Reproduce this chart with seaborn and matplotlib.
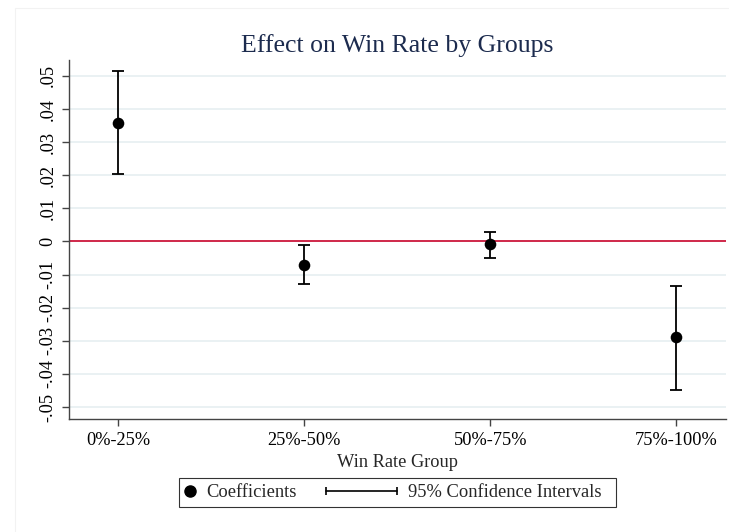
import numpy as np
import pandas as pd
import matplotlib.pyplot as plt
import seaborn as sns
from matplotlib.lines import Line2D
from matplotlib.legend_handler import HandlerLine2D
from matplotlib.patches import Rectangle

# values
groups = ['0%-25%', '25%-50%', '50%-75%', '75%-100%']
coef = [0.0359, -0.0070, -0.0009, -0.0289]
ci_low = [0.0203, -0.0128, -0.0050, -0.0447]
ci_high = [0.0516, -0.0011, 0.0030, -0.0133]
yticks = [0.05, 0.04, 0.03, 0.02, 0.01, 0, -0.01, -0.02, -0.03, -0.04, -0.05]
ytick_labels = ['.05', '.04', '.03', '.02', '.01', '0', '-.01', '-.02', '-.03', '-.04', '-.05']

df = pd.DataFrame({'group': groups, 'coef': coef, 'lo': ci_low, 'hi': ci_high})
df['pos'] = np.arange(len(df))


class WideCIHandler(HandlerLine2D):
    # CI key is wider than the legend handle box, it runs out to the left
    def get_xdata(self, legend, xdescent, ydescent, width, height, fontsize):
        x = np.array([-xdescent + width - 51, -xdescent + width])
        return x, x


sns.set_theme(style='white')
plt.rcParams['font.family'] = ['Liberation Serif', 'DejaVu Serif']

fig = plt.figure(figsize=(7.29, 5.32), dpi=100)
ax = fig.add_axes([0.0947, 0.2124, 0.9006, 0.6748])

# faint outer frame like the Stata graph region
fig.patches.append(Rectangle((15 / 729, -0.05), 1.2, 1.05 - 8 / 532, transform=fig.transFigure,
                             fill=False, edgecolor='#f2f2f2', linewidth=0.8, zorder=0))

# grid lines
for y in yticks:
    ax.axhline(y, color='#eaf1f3', linewidth=1.4, zorder=0)
ax.axhline(0, color='#d0284a', linewidth=1.4, zorder=1)

# confidence intervals
ax.errorbar(df['pos'], df['coef'],
            yerr=[df['coef'] - df['lo'], df['hi'] - df['coef']],
            fmt='none', ecolor='black', elinewidth=1.3, capsize=4, capthick=1.3, zorder=2)

# coefficients
sns.scatterplot(data=df, x='pos', y='coef', color='black', s=70, edgecolor='black',
                linewidth=0, ax=ax, zorder=3, legend=False)

ax.set_xlim(-0.265, 3.265)
ax.set_ylim(-0.0536, 0.0548)
ax.set_xticks(df['pos'])
ax.set_xticklabels(groups, fontsize=13.2)
ax.set_yticks(yticks)
ax.set_yticklabels(ytick_labels, fontsize=13.2, rotation=90, va='center')
ax.set_xlabel('Win Rate Group', fontsize=13.2, labelpad=4)
ax.set_ylabel('')
ax.set_title('Effect on Win Rate by Groups', fontsize=18.5, color='#1c2b4e', pad=6)

for side in ['top', 'right']:
    ax.spines[side].set_visible(False)
for side in ['left', 'bottom']:
    ax.spines[side].set_color('#444444')
    ax.spines[side].set_linewidth(1.0)
ax.tick_params(axis='both', which='major', direction='out', length=5, width=1,
               color='#444444', bottom=True, left=True, pad=4, labelcolor='black')

# legend
coef_handle = Line2D([0], [0], marker='o', color='black', linestyle='none', markersize=8)
ci_handle = Line2D([0], [0], marker='|', color='black', linestyle='-', linewidth=1.2,
                   markersize=6, markeredgewidth=1.2)
leg = fig.legend([coef_handle, ci_handle], ['Coefficients', '95% Confidence Intervals  '],
                 handler_map={ci_handle: WideCIHandler(numpoints=2)},
                 loc='center', bbox_to_anchor=(0.5453, 0.0743), ncol=2, fontsize=13.3,
                 frameon=True, fancybox=False, edgecolor='black', handlelength=0.6,
                 columnspacing=4.86, handletextpad=0.57, borderpad=0.3, borderaxespad=0)
leg.get_frame().set_linewidth(0.8)

fig.savefig('out.png', dpi=100)
